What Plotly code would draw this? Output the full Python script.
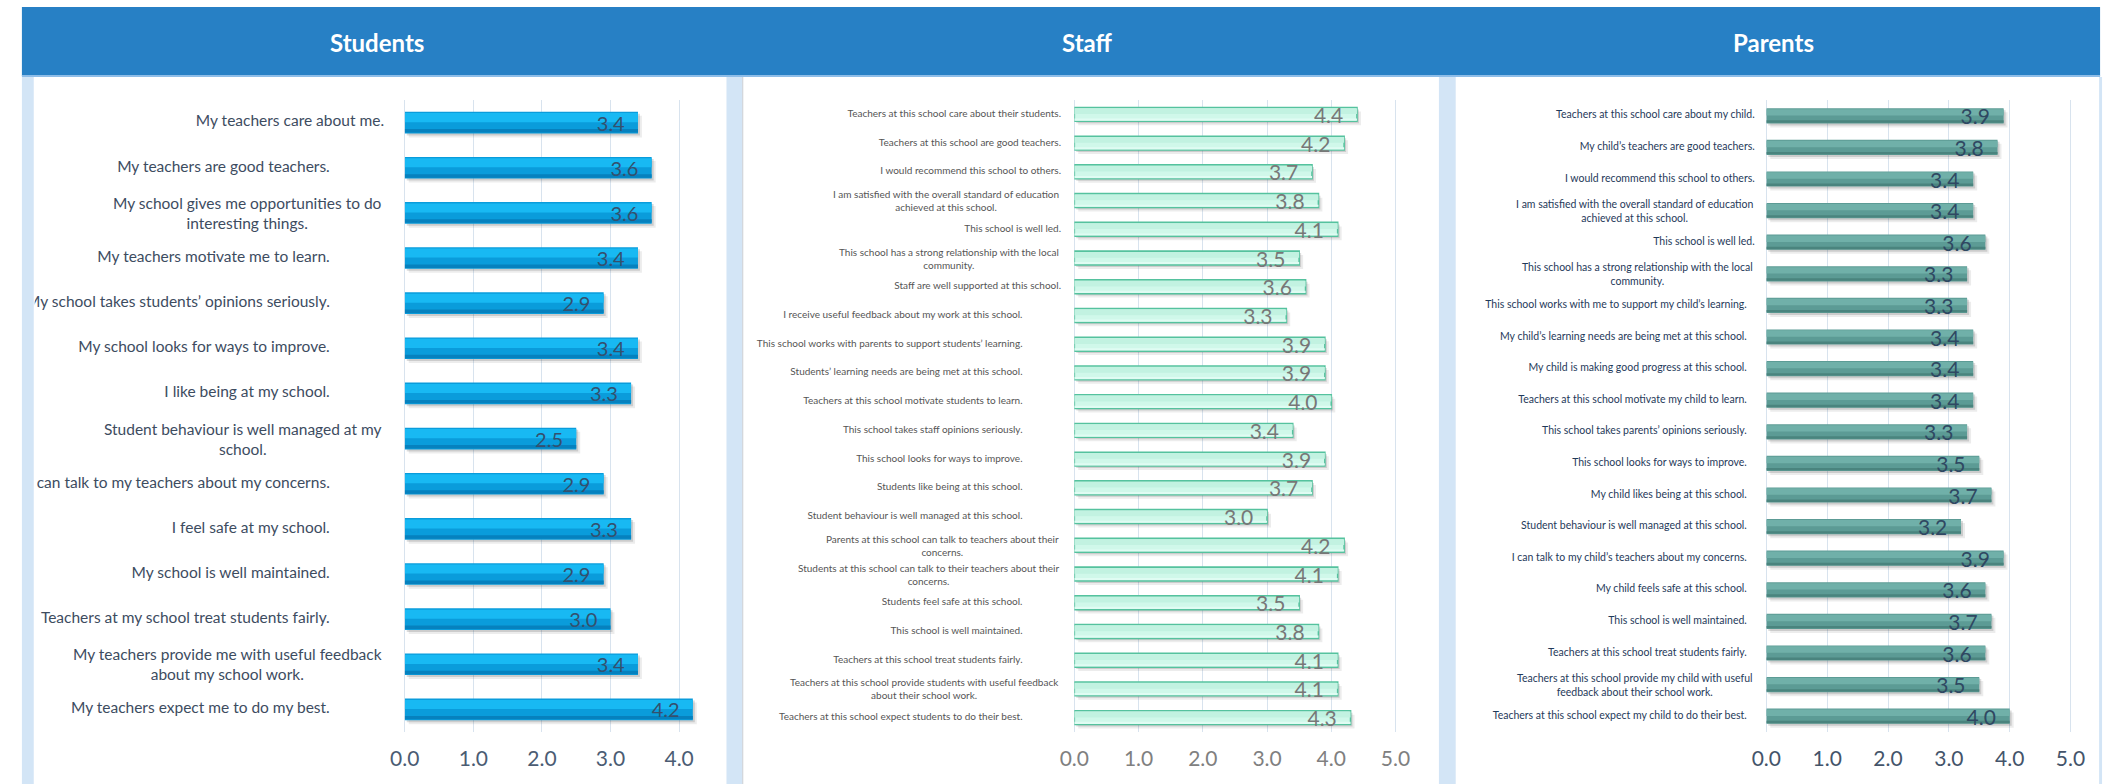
import plotly.graph_objects as go

W, H = 2119, 784

# ---------------- survey data (mean score per item) ----------------
panel_titles = ["Students", "Staff", "Parents"]

student_items = [
    "My teachers care about me.",
    "My teachers are good teachers.",
    "My school gives me opportunities to do<br>interesting things.",
    "My teachers motivate me to learn.",
    "My school takes students’ opinions seriously.",
    "My school looks for ways to improve.",
    "I like being at my school.",
    "Student behaviour is well managed at my<br>school.",
    "I can talk to my teachers about my concerns.",
    "I feel safe at my school.",
    "My school is well maintained.",
    "Teachers at my school treat students fairly.",
    "My teachers provide me with useful feedback<br>about my school work.",
    "My teachers expect me to do my best.",
]
student_scores = [3.4, 3.6, 3.6, 3.4, 2.9, 3.4, 3.3, 2.5, 2.9, 3.3, 2.9, 3.0, 3.4, 4.2]

staff_items = [
    "Teachers at this school care about their students.",
    "Teachers at this school are good teachers.",
    "I would recommend this school to others.",
    "I am satisfied with the overall standard of education<br>achieved at this school.",
    "This school is well led.",
    "This school has a strong relationship with the local<br>community.",
    "Staff are well supported at this school.",
    "I receive useful feedback about my work at this school.",
    "This school works with parents to support students’ learning.",
    "Students’ learning needs are being met at this school.",
    "Teachers at this school motivate students to learn.",
    "This school takes staff opinions seriously.",
    "This school looks for ways to improve.",
    "Students like being at this school.",
    "Student behaviour is well managed at this school.",
    "Parents at this school can talk to teachers about their<br>concerns.",
    "Students at this school can talk to their teachers about their<br>concerns.",
    "Students feel safe at this school.",
    "This school is well maintained.",
    "Teachers at this school treat students fairly.",
    "Teachers at this school provide students with useful feedback<br>about their school work.",
    "Teachers at this school expect students to do their best.",
]
staff_scores = [4.4, 4.2, 3.7, 3.8, 4.1, 3.5, 3.6, 3.3, 3.9, 3.9, 4.0,
                3.4, 3.9, 3.7, 3.0, 4.2, 4.1, 3.5, 3.8, 4.1, 4.1, 4.3]

parent_items = [
    "Teachers at this school care about my child.",
    "My child’s teachers are good teachers.",
    "I would recommend this school to others.",
    "I am satisfied with the overall standard of education<br>achieved at this school.",
    "This school is well led.",
    "This school has a strong relationship with the local<br>community.",
    "This school works with me to support my child’s learning.",
    "My child’s learning needs are being met at this school.",
    "My child is making good progress at this school.",
    "Teachers at this school motivate my child to learn.",
    "This school takes parents’ opinions seriously.",
    "This school looks for ways to improve.",
    "My child likes being at this school.",
    "Student behaviour is well managed at this school.",
    "I can talk to my child’s teachers about my concerns.",
    "My child feels safe at this school.",
    "This school is well maintained.",
    "Teachers at this school treat students fairly.",
    "Teachers at this school provide my child with useful<br>feedback about their school work.",
    "Teachers at this school expect my child to do their best.",
]
parent_scores = [3.9, 3.8, 3.4, 3.4, 3.6, 3.3, 3.3, 3.4, 3.4, 3.4,
                 3.3, 3.5, 3.7, 3.2, 3.9, 3.6, 3.7, 3.6, 3.5, 4.0]

student_ticks = [0, 1, 2, 3, 4]
adult_ticks = [0, 1, 2, 3, 4, 5]

# ---------------- layout constants (pixels) ----------------
FONT = "Lato"
PLOT_TOP, PLOT_BOTTOM = 100, 732
BAR_FRAC = 0.48
HEADER_BLUE = "#2780C5"
STRIP_BLUE = "#D3E5F6"
GRID = "#D8E3EE"

panels = [
    dict(title=panel_titles[0], items=student_items, scores=student_scores, ticks=student_ticks,
         left=20, right=721, x0=395, unit=69.5, xmax=4.4,
         edge_near=319, edge_far=374, far_rows={0},
         bar="#0A9CDB", bar_top="#18B9F3", bar_bottom="#0681BE", bar_line=None,
         label_size=15.5, label_color="#3D4C5F",
         tick_color="#4B5C73", value_color="#34506E", value_size=20),
    dict(title=panel_titles[1], items=staff_items, scores=staff_scores, ticks=adult_ticks,
         left=738, right=1443, x0=1073.5, unit=65.1, xmax=5.02,
         edge_near=1021, edge_far=1060, far_rows={0, 1, 2, 4, 6},
         bar="#D0F8EA", bar_top="#C2F2E1", bar_bottom="#E0FCF3", bar_line="#55C29E",
         label_size=10, label_color="#555555",
         tick_color="#808080", value_color="#777777", value_size=21),
    dict(title=panel_titles[2], items=parent_items, scores=parent_scores, ticks=adult_ticks,
         left=1460, right=2113, x0=1774.8, unit=61.65, xmax=5.02,
         edge_near=1755, edge_far=1763, far_rows={0, 1, 2, 4},
         bar="#5C9B95", bar_top="#70B0A9", bar_bottom="#4A847E", bar_line=None,
         label_size=10.5, label_color="#1F3A5A",
         tick_color="#44546A", value_color="#2F4862", value_size=21),
]


def px_x(p):
    return p / W


def px_y(p):
    return 1 - p / H


fig = go.Figure()
layout = dict(
    width=W, height=H, margin=dict(l=0, r=0, t=0, b=0),
    paper_bgcolor="white", plot_bgcolor="rgba(0,0,0,0)",
    showlegend=False, barmode="overlay", hovermode=False,
    font=dict(family=FONT),
)
shapes = []
annotations = []

# header band and side strips
shapes.append(dict(type="rect", xref="paper", yref="paper", layer="below",
                   x0=px_x(7), x1=px_x(2113), y0=px_y(76), y1=px_y(7),
                   fillcolor=HEADER_BLUE, line=dict(width=0)))
shapes.append(dict(type="line", xref="paper", yref="paper", layer="below",
                   x0=px_x(7), x1=px_x(2113), y0=px_y(76), y1=px_y(76),
                   line=dict(color="#8EBDE8", width=2)))
for a, b in [(7, 19), (721, 737), (1443, 1460), (2112, 2115)]:
    shapes.append(dict(type="rect", xref="paper", yref="paper", layer="below",
                       x0=px_x(a), x1=px_x(b), y0=0, y1=px_y(77),
                       fillcolor=STRIP_BLUE, line=dict(width=0)))
shapes.append(dict(type="line", xref="paper", yref="paper", layer="below",
                   x0=px_x(737.5), x1=px_x(737.5), y0=0, y1=px_y(77),
                   line=dict(color="#C8CDD2", width=1)))

ydom = [px_y(PLOT_BOTTOM), px_y(PLOT_TOP)]

for k, p in enumerate(panels, start=1):
    xid = "x" if k == 1 else f"x{k}"
    yid = "y" if k == 1 else f"y{k}"
    lid = f"x{k + 3}"
    items, scores = p["items"], p["scores"]
    n = len(items)
    step = (PLOT_BOTTOM - PLOT_TOP) / n          # pixels per row
    half = BAR_FRAC / 2

    # soft drop shadow under each bar
    for dy, dxp, alpha in [(2, 2, 0.16), (4, 4, 0.09)]:
        fig.add_trace(go.Bar(
            x=scores, y=items, orientation="h", base=dxp / p["unit"],
            width=BAR_FRAC, offset=-half + dy / step,
            marker=dict(color=f"rgba(40,40,40,{alpha})", line=dict(width=0)),
            xaxis=xid, yaxis=yid, hoverinfo="skip"))

    # bar body
    line = dict(color=p["bar_line"], width=1.6) if p["bar_line"] else dict(width=0)
    fig.add_trace(go.Bar(
        x=scores, y=items, orientation="h", width=BAR_FRAC, offset=-half,
        marker=dict(color=p["bar"], line=line),
        xaxis=xid, yaxis=yid, hoverinfo="skip"))
    # shading bands (lighter top, darker bottom)
    fig.add_trace(go.Bar(
        x=scores, y=items, orientation="h", width=BAR_FRAC * 0.42, offset=-half + 0.03,
        marker=dict(color=p["bar_top"], line=dict(width=0)),
        xaxis=xid, yaxis=yid, hoverinfo="skip"))
    fig.add_trace(go.Bar(
        x=scores, y=items, orientation="h", width=BAR_FRAC * 0.16, offset=half - BAR_FRAC * 0.16 - 0.02,
        marker=dict(color=p["bar_bottom"], line=dict(width=0)),
        xaxis=xid, yaxis=yid, hoverinfo="skip"))
    # value labels
    fig.add_trace(go.Bar(
        x=scores, y=items, orientation="h", width=BAR_FRAC, offset=-half,
        marker=dict(color="rgba(0,0,0,0)", line=dict(width=0)),
        text=[f"{v:.1f}\u00a0\u00a0" for v in scores],
        textposition="inside", insidetextanchor="end", constraintext="none",
        textfont=dict(family=FONT, size=p["value_size"], color=p["value_color"]),
        xaxis=xid, yaxis=yid, hoverinfo="skip"))

    # category labels: single-line ones clipped to the panel, wrapped ones centred
    single = [i for i, t in enumerate(items) if "<br>" not in t]
    wrapped = [i for i, t in enumerate(items) if "<br>" in t]
    fig.add_trace(go.Scatter(
        x=[p["edge_far"] if i in p["far_rows"] else p["edge_near"] for i in single],
        y=[items[i] for i in single],
        mode="text", text=[items[i] for i in single], textposition="middle left",
        textfont=dict(family=FONT, size=p["label_size"], color=p["label_color"]),
        cliponaxis=True, xaxis=lid, yaxis=yid, hoverinfo="skip"))
    for i in wrapped:
        annotations.append(dict(
            xref="paper", yref=yid, x=px_x(p["edge_far"]), y=i,
            xanchor="right", yanchor="middle", align="center", showarrow=False,
            text=items[i],
            font=dict(family=FONT, size=p["label_size"], color=p["label_color"])))

    layout["xaxis" if k == 1 else f"xaxis{k}"] = dict(
        domain=[px_x(p["x0"]), px_x(p["x0"] + p["xmax"] * p["unit"])],
        range=[0, p["xmax"]], anchor=yid,
        tickvals=p["ticks"], tickformat=".1f", ticks="",
        showgrid=True, gridcolor=GRID, gridwidth=1,
        zeroline=True, zerolinecolor=GRID, zerolinewidth=1, showline=False,
        ticklabelstandoff=12,
        tickfont=dict(family=FONT, size=21, color=p["tick_color"]))
    layout["yaxis" if k == 1 else f"yaxis{k}"] = dict(
        domain=ydom, type="category", categoryorder="array", categoryarray=items,
        range=[n - 0.5, -0.5], anchor=xid, visible=False, showgrid=False)
    layout[f"xaxis{k + 3}"] = dict(
        domain=[px_x(p["left"]), px_x(p["edge_far"] + 10)],
        range=[p["left"], p["edge_far"] + 10], anchor=yid, visible=False,
        showgrid=False, zeroline=False)

    # panel heading
    annotations.append(dict(
        xref="paper", yref="paper", x=px_x((p["left"] + p["right"]) / 2 - 4), y=px_y(42),
        xanchor="center", yanchor="middle", showarrow=False, text=p["title"],
        font=dict(family=FONT, size=24, color="white", weight="bold")))

layout["shapes"] = shapes
layout["annotations"] = annotations
fig.update_layout(**layout)
fig.write_html("out.html", config={"displayModeBar": False})
